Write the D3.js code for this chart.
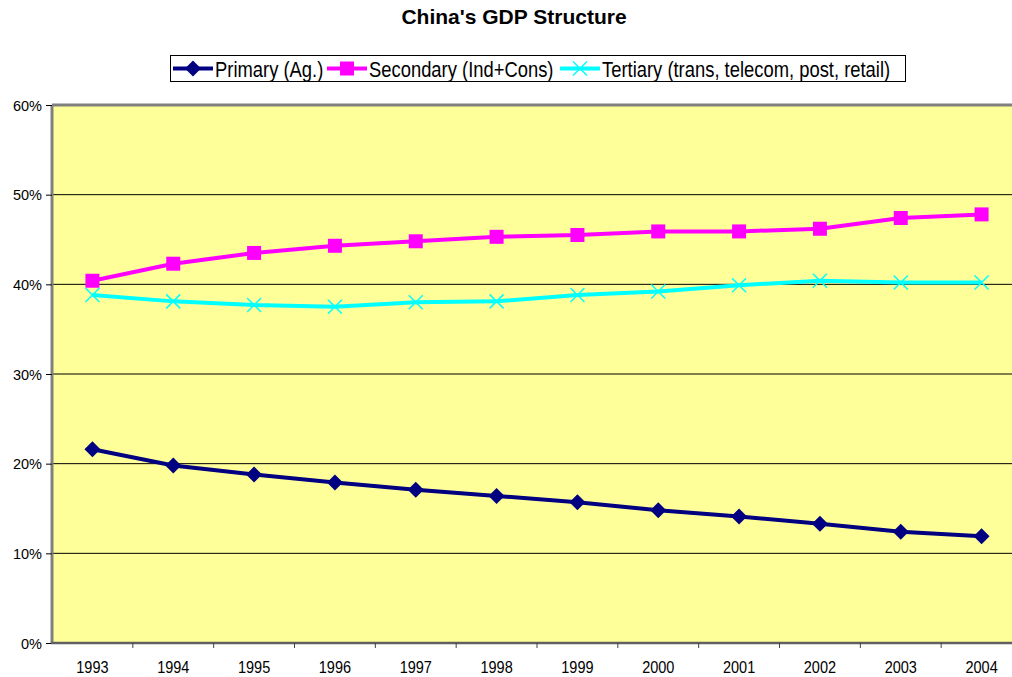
<!DOCTYPE html>
<html><head><meta charset="utf-8">
<script src="https://cdn.jsdelivr.net/npm/d3@7"></script>
<style>body{margin:0;background:#fff}svg{display:block}</style>
</head><body><svg id="c" width="1012" height="677"></svg>
<script>
const years = ["1993","1994","1995","1996","1997","1998","1999","2000","2001","2002","2003","2004"];
const primary = [21.6,19.8,18.8,17.9,17.1,16.4,15.7,14.8,14.1,13.3,12.4,11.9];
const secondary = [40.4,42.3,43.5,44.3,44.8,45.3,45.5,45.9,45.9,46.2,47.4,47.8];
const tertiary = [38.8,38.1,37.7,37.5,38.0,38.1,38.8,39.2,39.9,40.4,40.2,40.2];
const yTicks = [0,10,20,30,40,50,60];
const seriesNames = ["Primary (Ag.)","Secondary (Ind+Cons)","Tertiary (trans, telecom, post, retail)"];

const svg = d3.select("#c");
const font = "'Liberation Sans', Arial, sans-serif";
const L = 52, T = 105, R = 1022, B = 643;
const x = d3.scaleBand().domain(years).range([L, R]).padding(0);
const y = d3.scaleLinear().domain([0,60]).range([B, T]);
const cx = d => x(d) + x.bandwidth()/2;

svg.append("text").attr("x",514).attr("y",24).attr("text-anchor","middle")
  .attr("font-family",font).attr("font-weight","bold").attr("font-size",21).text("China's GDP Structure");

// plot area
svg.append("rect").attr("x",L).attr("y",T).attr("width",R-L).attr("height",B-T).attr("fill","#ffff99");
// gridlines
svg.append("g").selectAll("line").data(yTicks.filter(v=>v>0&&v<60)).join("line")
  .attr("x1",L).attr("x2",R).attr("y1",d=>y(d)).attr("y2",d=>y(d)).attr("stroke","#000").attr("stroke-width",1);
// borders
svg.append("line").attr("x1",L).attr("x2",R).attr("y1",T).attr("y2",T).attr("stroke","#808080").attr("stroke-width",3);
svg.append("line").attr("x1",L).attr("x2",L).attr("y1",T).attr("y2",B).attr("stroke","#808080").attr("stroke-width",3);

// y axis
const ya = svg.append("g").attr("transform",`translate(${L},0)`)
  .call(d3.axisLeft(y).tickValues(yTicks).tickFormat(d=>d+"%").tickSize(6).tickSizeOuter(0));
ya.select(".domain").remove();
ya.selectAll("line").attr("stroke","#000");
ya.selectAll("text").attr("font-family",font).attr("font-size",14.5).attr("fill","#000").attr("dx",-1).attr("dy","0.36em");

// x axis
svg.append("line").attr("x1",L-1).attr("x2",R).attr("y1",B).attr("y2",B).attr("stroke","#606060").attr("stroke-width",2.5);
svg.append("g").selectAll("line").data(years.slice(1)).join("line")
  .attr("x1",d=>x(d)).attr("x2",d=>x(d)).attr("y1",B).attr("y2",B+5).attr("stroke","#404040");
svg.append("g").selectAll("text").data(years).join("text")
  .attr("transform",d=>`translate(${cx(d)},673) scale(1,1.1)`).attr("text-anchor","middle")
  .attr("font-family",font).attr("font-size",14.5).text(d=>d);

const line = d3.line().x((d,i)=>cx(years[i])).y(d=>y(d));
const colors = ["#000080","#ff00ff","#00ffff"];
[primary,secondary,tertiary].forEach((s,k)=>{
  svg.append("path").datum(s).attr("d",line).attr("fill","none").attr("stroke",colors[k]).attr("stroke-width",4);
});
function marker(g, k, px, py){
  if(k===0){
    g.append("path").attr("d",`M${px},${py-8}L${px+8},${py}L${px},${py+8}L${px-8},${py}Z`).attr("fill",colors[0]);
  } else if(k===1){
    g.append("rect").attr("x",px-7).attr("y",py-7).attr("width",14).attr("height",14).attr("fill",colors[1]);
  } else {
    g.append("path").attr("d",`M${px-7},${py-7}L${px+7},${py+7}M${px+7},${py-7}L${px-7},${py+7}`).attr("stroke",colors[2]).attr("stroke-width",1.5);
  }
}
const mg = svg.append("g");
[primary,secondary,tertiary].forEach((s,k)=>{
  s.forEach((v,i)=>marker(mg,k,cx(years[i]),y(v)));
});

// legend
const lg = svg.append("g");
lg.append("rect").attr("x",170.5).attr("y",55.5).attr("width",735).attr("height",26).attr("fill","#fff").attr("stroke","#000");
const legX = [173, 327, 560];
seriesNames.forEach((n,k)=>{
  const x0 = legX[k], yy = 68.5;
  lg.append("line").attr("x1",x0).attr("x2",x0+40).attr("y1",yy).attr("y2",yy).attr("stroke",colors[k]).attr("stroke-width",4);
  marker(lg,k,x0+20,yy);
  lg.append("text").attr("transform",`translate(${x0+42},76.5) scale(1,1.15)`)
    .attr("font-family",font).attr("font-size",18.4).text(n);
});
</script></body></html>
